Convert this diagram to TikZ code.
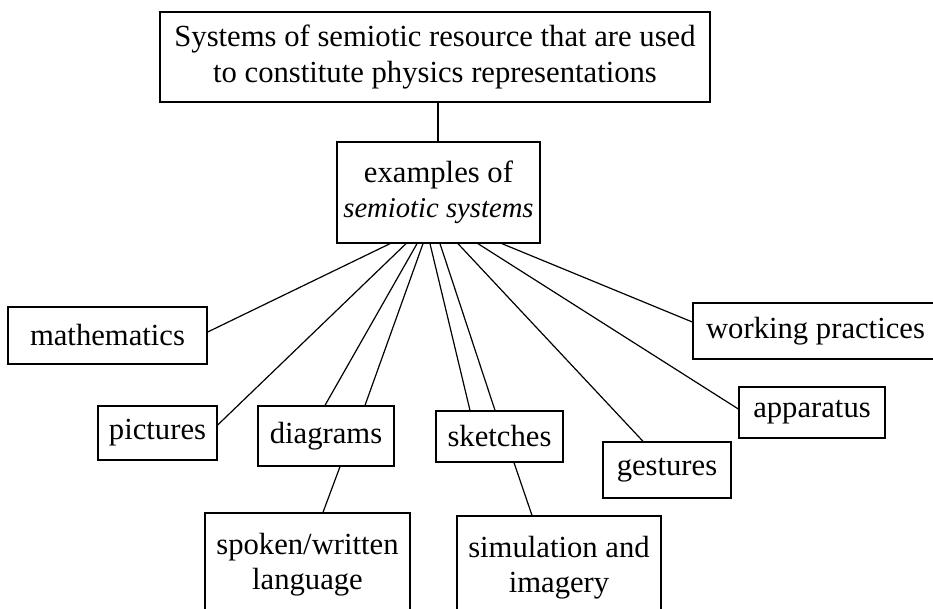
\documentclass[tikz,border=0pt]{standalone}
\usepackage{fontspec}
\setmainfont{Liberation Serif}
\begin{document}
\begin{tikzpicture}[x=0.75pt,y=-0.75pt,
  box/.style={draw, line width=1pt, inner sep=0pt, align=center,
    font=\fontsize{23}{26.5}\selectfont},
  bsz/.style 2 args={minimum width=#1*0.75pt, minimum height=#2*0.75pt},
  conn/.style={line width=0.9pt}]
\useasboundingbox (0,0) rectangle (933,608);
\node[box, bsz={550}{90}] (top) at (435,57) {Systems of semiotic resource that are used\\to constitute physics representations};
\node[box, bsz={203}{101}] (mid) at (438.5,192.5) {examples of\\{\fontsize{21.5}{26.5}\selectfont\itshape semiotic systems}};
\node[box, bsz={199}{57}] (math) at (107.5,335.5) {mathematics};
\node[box, bsz={119}{54}] (pic) at (157.5,433) {pictures};
\node[box, bsz={136}{60}] (diag) at (326,436) {diagrams};
\node[box, bsz={127}{51}] (sketch) at (499.5,436.5) {sketches};
\node[box, bsz={128}{56}] (gest) at (667,470) {gestures};
\node[box, bsz={146}{51}] (app) at (812,412.5) {apparatus};
\node[box, bsz={245}{56}] (work) at (815.5,331) {working practices};
\node[box, bsz={205}{103}] (spoken) at (307.5,564.5) {spoken/written\\language};
\node[box, bsz={204}{103}] (sim) at (559,567.5) {simulation and\\imagery};

\draw[conn] (top.south -| 438,0) -- (mid.north -| 438,0);
\draw[conn] (mid.south -| 390,0) -- (math.east |- 0,332);
\draw[conn] (mid.south -| 406,0) -- (pic.east |- 0,425);
\draw[conn] (mid.south -| 417,0) -- (diag.north -| 325,0);
\draw[conn] (mid.south -| 423,0) -- (diag.north -| 365,0);
\draw[conn] (mid.south -| 430,0) -- (sketch.north -| 470,0);
\draw[conn] (mid.south -| 440,0) -- (sketch.north -| 495,0);
\draw[conn] (mid.south -| 458,0) -- (gest.north -| 643,0);
\draw[conn] (mid.south -| 478,0) -- (app.west |- 0,409);
\draw[conn] (mid.south -| 502,0) -- (work.west |- 0,322);
\draw[conn] (diag.south -| 340,0) -- (spoken.north -| 323,0);
\draw[conn] (sketch.south -| 514,0) -- (sim.north -| 532,0);
\end{tikzpicture}
\end{document}
